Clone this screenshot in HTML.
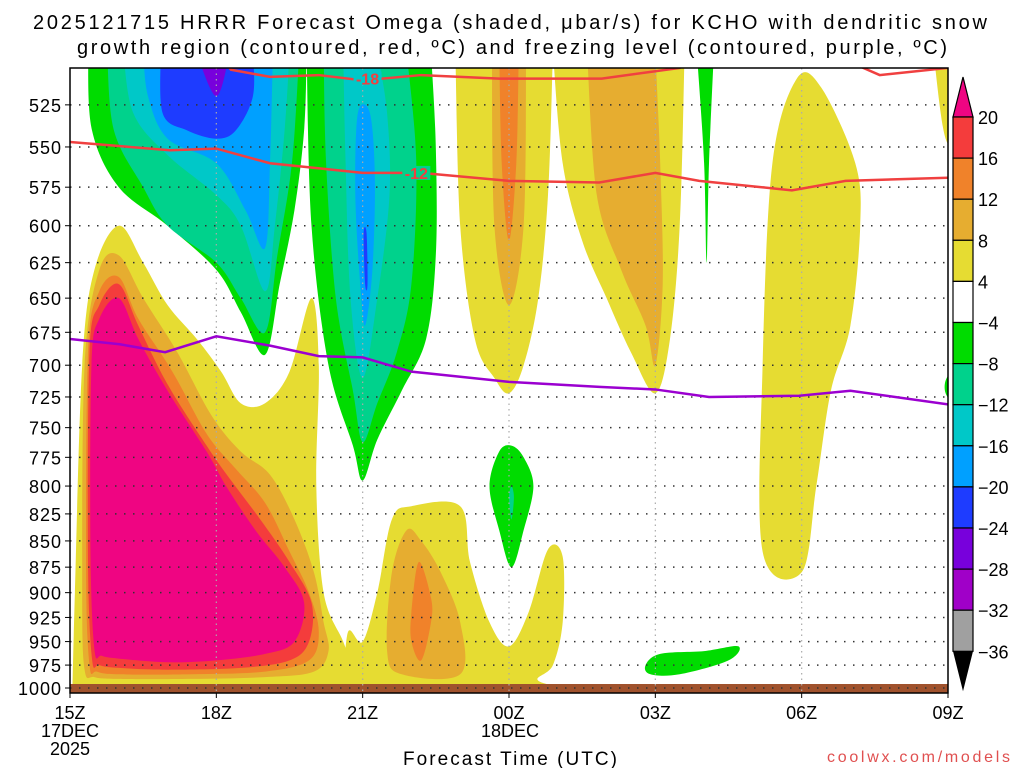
<!DOCTYPE html>
<html><head><meta charset="utf-8"><style>
body{margin:0;background:#fff;}
svg{display:block;font-family:"Liberation Sans",sans-serif;}
</style></head><body>
<svg id="chart" width="1024" height="768" viewBox="0 0 1024 768" xmlns="http://www.w3.org/2000/svg">
<text x="33" y="29" font-size="20" textLength="954" lengthAdjust="spacing">2025121715 HRRR Forecast Omega (shaded, μbar/s) for KCHO with dendritic snow</text>
<text x="77" y="54" font-size="20" textLength="870" lengthAdjust="spacing">growth region (contoured, red, ºC) and freezing level (contoured, purple, ºC)</text>
<defs><clipPath id="plotclip"><rect x="70" y="68" width="878" height="625"/></clipPath></defs>
<g id="fills" clip-path="url(#plotclip)"></g>
<g id="grid"></g>
<g id="lines" clip-path="url(#plotclip)"></g>
<rect x="70" y="68" width="878" height="625" fill="none" stroke="#000" stroke-width="1.5"/>
<g id="axes"></g>
<g id="cbar"></g>
<text x="403" y="765" font-size="19" textLength="214" lengthAdjust="spacing">Forecast Time (UTC)</text>
<text x="827" y="762" font-size="16" fill="#e05050" textLength="183" lengthAdjust="spacing">coolwx.com/models</text>
</svg>
<script>
// ---- data ----
const pressureTicks=[525,550,575,600,625,650,675,700,725,750,775,800,825,850,875,900,925,950,975,1000];
const timeTicks=['15Z','18Z','21Z','00Z','03Z','06Z','09Z'];
const timeTickHours=[0,3,6,9,12,15,18];
const cbarLevels=[20,16,12,8,4,-4,-8,-12,-16,-20,-24,-28,-32,-36];
const cbarColors=['#f43c3c','#f0822a','#e6ad30','#e6dc32','#ffffff','#00dc00','#00d28c','#00c8c8','#00a0ff','#1e3cff','#7800dc','#a000c8','#a0a0a0'];
const dgzWarmHours=[0,2.05,3,4.1,6,7.2,9,10.85,12,12.9,14.8,15.9,18];
const dgzWarmP=[547,552,551,560,566,566,571,572,566,571,577,571,569];
const dgzColdHours=[3.0,3.3,4.1,5.1,6.0,7.2,8.8,10.9,12.5,13.0];
const dgzColdP=[495,505,509,508,511,508,510,510,504,495];
const dgzColdHours2=[15.5,16.6,17.3,18];
const dgzColdP2=[495,508,506,504];
const frzHours=[0,1.02,1.95,3,4.1,5.1,6,7.0,9,10.85,12,13.1,14.95,16,18];
const frzP=[680,684,690,678,685,693,694,705,713,717,719,725,724,720,731];
// shaded regions: [color, hours[], pressures[], closed]
const regions=[
 ['#e6dc32',[0.05,0.1,0.25,0.5,1.0,1.5,2.0,2.6,3.1,3.5,4.0,4.5,4.95,5.1,5.05,5.2,5.6,5.9,6.0],[1003,900,700,630,600,625,655,680,705,730,730,705,650,700,800,900,950,990,1003],false],
 ['#e6dc32',[5.6,5.7,6.0,6.3,6.6,7.0,8.0,8.2,8.6,9.0,9.4,9.8,10.1,10.1,9.9,9.6,10.5],[1003,940,950,900,830,818,818,870,930,955,920,858,865,930,975,992,1003],false],
 ['#e6ad30',[0.3,0.25,0.3,0.6,1.0,1.5,2.2,2.9,3.5,4.1,4.6,5.0,5.2,5.3,5.0,4.0,2.5,1.0,0.5],[980,900,700,630,620,650,690,740,770,790,830,880,930,960,982,988,990,990,988],true],
 ['#f0822a',[0.4,0.33,0.37,0.6,1.0,1.4,2.1,2.8,3.4,4.0,4.5,4.9,5.1,4.9,4.0,2.5,1.0,0.55],[975,880,690,645,635,665,705,755,785,815,860,900,940,970,982,985,985,982],true],
 ['#f43c3c',[0.45,0.37,0.4,0.6,1.0,1.4,2.0,2.8,3.3,3.9,4.5,4.95,4.9,4.5,3.5,2.0,1.0,0.6],[968,870,690,655,640,670,715,765,795,830,870,910,950,970,978,980,978,975],true],
 ['#ef0582',[0.5,0.42,0.44,0.6,1.0,1.4,2.0,2.8,3.2,3.8,4.4,4.8,4.6,4.0,3.0,2.0,1.0,0.65],[958,860,700,665,650,680,720,770,800,840,875,910,950,963,970,972,968,965],true],
 ['#e6ad30',[6.5,6.6,6.9,7.2,7.6,8.0,8.0,6.8],[960,880,840,850,880,930,985,985],true],
 ['#f0822a',[7.0,7.15,7.4,7.4,7.2,7.0],[920,870,905,930,970,950],true],
 ['#e6dc32',[7.9,8.0,8.3,8.7,9.0,9.3,9.6,9.8,9.9],[495,600,680,710,722,700,650,580,495],false],
 ['#e6ad30',[8.65,8.7,9.0,9.3,9.35],[495,600,655,600,495],false],
 ['#f0822a',[8.8,8.85,9.0,9.15,9.2],[495,560,610,560,495],false],
 ['#e6dc32',[9.9,10.1,10.5,11.0,11.5,12.0,12.3,12.5,12.6],[495,560,610,650,690,722,680,600,495],false],
 ['#e6ad30',[10.6,10.8,11.3,11.8,12.0,12.15,12.1,12.0],[495,580,630,670,700,640,560,495],false],
 ['#e6dc32',[14.9,14.4,14.2,14.2,15.0,15.3,15.6,16.0,16.2,16.1,15.4],[510,560,700,860,880,800,720,670,600,560,515],true],
 ['#e6dc32',[17.7,17.95,18.3,18.3],[495,545,545,495],false],
 ['#00dc00',[0.37,0.45,1.0,2.0,3.0,3.5,4.0,4.3,4.6,4.8,4.85],[495,540,575,600,630,660,692,640,590,540,495],false],
 ['#00d28c',[0.76,0.9,1.5,2.0,3.0,3.5,4.0,4.25,4.55,4.7],[495,540,575,600,625,650,675,620,560,495],false],
 ['#00c8c8',[1.09,1.3,2.0,3.0,3.5,4.0,4.2,4.4,4.5],[495,530,555,580,600,645,600,540,495],false],
 ['#00a0ff',[1.5,1.6,2.0,3.0,3.6,4.0,4.1,4.16],[495,520,545,560,590,615,560,495],false],
 ['#1e3cff',[1.86,1.9,2.4,3.0,3.4,3.75,3.75],[495,530,540,545,540,520,495],false],
 ['#7800dc',[2.58,3.0,3.28],[495,520,495],false],
 ['#00dc00',[4.85,4.95,5.3,5.8,6.0,6.3,6.8,7.3,7.5,7.5,7.4],[495,600,700,765,795,760,720,680,620,550,495],false],
 ['#00d28c',[5.2,5.25,5.45,5.8,6.0,6.3,6.7,7.0,7.1,6.9],[495,560,650,720,762,730,690,640,560,495],false],
 ['#00c8c8',[5.6,5.65,5.75,6.0,6.3,6.55,6.5,6.3],[495,560,650,710,650,580,530,495],false],
 ['#00a0ff',[5.9,5.85,5.95,6.05,6.2,6.25,6.15],[530,580,640,670,630,570,530],true],
 ['#1e3cff',[6.02,6.08,6.1,6.05],[605,605,640,640],true],
 ['#00dc00',[8.6,8.8,9.05,9.3,9.5,9.3,9.05,8.8],[800,770,765,775,800,840,875,840],true],
 ['#00d28c',[9.0,9.05,9.1,9.05],[810,800,810,830],true],
 ['#00dc00',[12.85,13.0,13.05,13.1,13.2],[495,560,625,560,495],false],
 ['#00dc00',[11.8,12.1,13.0,13.7,13.5,12.5,11.9],[975,963,960,955,970,985,985],true],
 ['#00dc00',[18.1,17.95,17.95,18.1],[705,712,722,728],true]
];
// ---- axes ----
const X0=70,X1=948,Y0=68,Y1=693;
const xs=h=>X0+h*(X1-X0)/18;
const ys=p=>688-905*Math.log(1000/p);
const NS='http://www.w3.org/2000/svg';
function mk(tag,attrs,parent){const e=document.createElementNS(NS,tag);for(const k in attrs)e.setAttribute(k,attrs[k]);parent.appendChild(e);return e;}
function seg(p0,p1,p2,p3){
 const c1=[p1[0]+(p2[0]-p0[0])/6,p1[1]+(p2[1]-p0[1])/6],c2=[p2[0]-(p3[0]-p1[0])/6,p2[1]-(p3[1]-p1[1])/6];
 return `C${c1[0].toFixed(1)},${c1[1].toFixed(1)} ${c2[0].toFixed(1)},${c2[1].toFixed(1)} ${p2[0].toFixed(1)},${p2[1].toFixed(1)}`;}
function smoothPath(pts,closed){
 const n=pts.length;let d=`M${pts[0][0].toFixed(1)},${pts[0][1].toFixed(1)}`;
 if(closed){for(let i=0;i<n;i++)d+=seg(pts[(i-1+n)%n],pts[i],pts[(i+1)%n],pts[(i+2)%n]);}
 else{for(let i=0;i<n-1;i++)d+=seg(pts[Math.max(i-1,0)],pts[i],pts[i+1],pts[Math.min(i+2,n-1)]);}
 return d+'Z';}
const fills=document.getElementById('fills');
regions.forEach((r,i)=>{
 const pts=r[1].map((h,j)=>[xs(h),ys(r[2][j])]);
 const el=mk('path',{d:smoothPath(pts,r[3]),fill:r[0]},fills);
 
 
});
const g=mk('rect',{x:X0,y:ys(1000)-4,width:X1-X0,height:Y1-ys(1000)+4,fill:'#a0522d'},fills);


const grid=document.getElementById('grid');
pressureTicks.forEach(p=>{
 const l=mk('line',{x1:X0,x2:X1,y1:ys(p),y2:ys(p),stroke:'#333','stroke-width':1.5,'stroke-dasharray':'1.5,7.5'},grid);
 
 
});
timeTickHours.slice(1,-1).forEach(h=>{
 const l=mk('line',{x1:xs(h),x2:xs(h),y1:Y0,y2:Y1,stroke:'#aaa','stroke-width':1.2,'stroke-dasharray':'1.5,4'},grid);
 
 
});
const lines=document.getElementById('lines');
function poly(hs,ps,color,name){
 const pl=mk('polyline',{points:hs.map((h,i)=>xs(h)+','+ys(ps[i])).join(' '),fill:'none',stroke:color,'stroke-width':2.5},lines);
 
 }
poly(dgzWarmHours,dgzWarmP,'#f04040','dgz-minus12-line');
poly(dgzColdHours,dgzColdP,'#f04040','dgz-minus18-line');
poly(dgzColdHours2,dgzColdP2,'#f04040','dgz-minus18-line-right');
poly(frzHours,frzP,'#9b00d0','freezing-level-line');
function lbl(txt,h,p,name,bg){
 mk('rect',{x:xs(h)-14,y:ys(p)-7,width:28,height:14,fill:bg},lines);
 const t=mk('text',{x:xs(h),y:ys(p)+6,'font-size':16,'font-weight':'bold',fill:'#f04040','text-anchor':'middle'},lines);
 t.textContent=txt;
 
 }
lbl('-18',6.1,510,'label-minus18','#00c8c8');
lbl('-12',7.1,566,'label-minus12','#00d28c');
const axes=document.getElementById('axes');
pressureTicks.forEach(p=>{
 const t=mk('text',{x:62,y:ys(p)+7,'font-size':18,'text-anchor':'end','letter-spacing':'1'},axes);
 t.textContent=p;
 
 
 mk('line',{x1:X0-5,x2:X0,y1:ys(p),y2:ys(p),stroke:'#000'},axes);
});
timeTicks.forEach((s,i)=>{
 const x=xs(timeTickHours[i]);
 const t=mk('text',{x:x,y:719,'font-size':18,'text-anchor':'middle'},axes);
 t.textContent=s;
 
 
 mk('line',{x1:x,x2:x,y1:Y1,y2:Y1+5,stroke:'#000'},axes);
});
[['17DEC',70,737],['2025',70,755],['18DEC',510,737]].forEach(a=>{
 const t=mk('text',{x:a[1],y:a[2],'font-size':18,'text-anchor':'middle'},axes);
 t.textContent=a[0];
 
 
});
const cb=document.getElementById('cbar');
const CX=953,CW=20,CT=117,CS=41.1;
mk('path',{d:`M${CX},${CT} L${CX+CW/2},${CT-40} L${CX+CW},${CT} Z`,fill:'#ef0582',stroke:'#000','stroke-width':1.2},cb);
cbarColors.forEach((c,i)=>{
 const r=mk('rect',{x:CX,y:CT+i*CS,width:CW,height:CS,fill:c,stroke:'#000','stroke-width':1.2},cb);
 
 
});
const cbBot=CT+cbarColors.length*CS;
mk('path',{d:`M${CX},${cbBot} L${CX+CW/2},${cbBot+40} L${CX+CW},${cbBot} Z`,fill:'#000'},cb);
cbarLevels.forEach((v,i)=>{
 const t=mk('text',{x:978,y:CT+i*CS+7,'font-size':18},cb);
 t.textContent=v<0?'\u2212'+Math.abs(v):String(v);
 
 
});
</script>
</body></html>
